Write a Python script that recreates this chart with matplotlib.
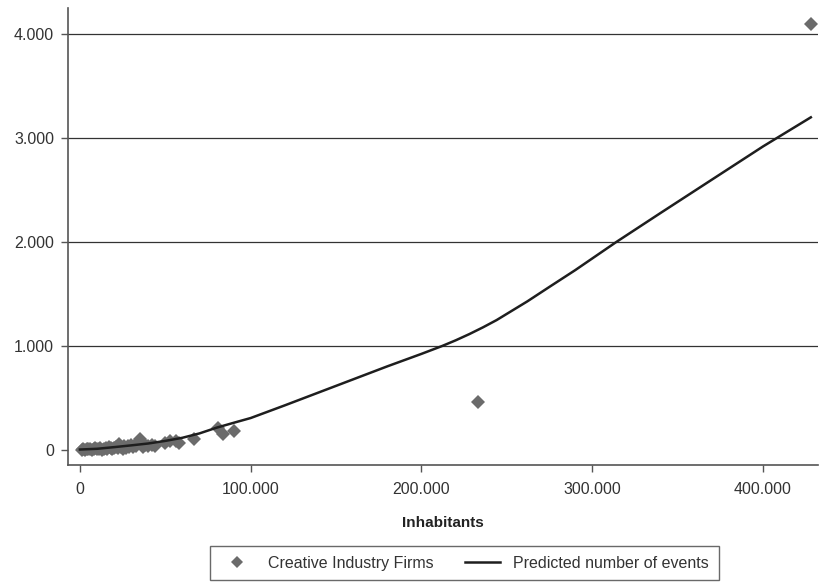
import numpy as np
import matplotlib
matplotlib.use('Agg')

import matplotlib.pyplot as plt
from matplotlib.ticker import FuncFormatter
from matplotlib.lines import Line2D

plt.rcParams['font.family'] = ['Liberation Sans', 'DejaVu Sans']

# --- Données ---
# Nombre d'habitants par commune et nombre d'entreprises créatives
habitants = [1000, 2000, 3000, 4000, 5000, 6000, 7000, 8000, 9000, 10000,
             11000, 12000, 13000, 14000, 15000, 16000, 17000, 18000, 19000, 20000,
             21000, 22000, 23000, 24000, 25000, 26000, 27000, 28000, 29000, 30000,
             31000, 32000, 33000, 35000, 36000, 37000, 38000, 40000, 42000, 44000,
             50000, 53000, 56000, 58000, 67000, 81000, 84000, 90000, 233000, 428000]
entreprises = [5, 8, 3, 10, 6, 12, 4, 9, 15, 7,
               12, 18, 5, 14, 20, 10, 25, 16, 8, 22,
               30, 18, 55, 28, 12, 35, 22, 40, 30, 45,
               25, 50, 38, 110, 60, 30, 45, 40, 50, 35,
               65, 85, 90, 65, 105, 210, 155, 180, 460, 4100]

# Courbe prédite (nombre d'événements)
pred_x = [0, 10000, 20000, 30000, 40000, 50000, 60000, 70000, 80000, 90000,
          100000, 120000, 140000, 160000, 180000, 200000, 212000, 220000, 228000,
          236000, 244000, 252000, 262000, 275000, 290000, 314000, 340000, 370000,
          400000, 428000]
pred_y = [5, 12, 28, 45, 63, 88, 118, 160, 215, 262,
          308, 430, 555, 680, 805, 925, 1000, 1055, 1115,
          1180, 1250, 1330, 1430, 1570, 1730, 2000, 2280, 2600,
          2920, 3200]

fig = plt.figure(figsize=(8.19, 5.82), dpi=100)
ax = fig.add_axes([0.083, 0.201, 0.916, 0.785])

ax.set_axisbelow(True)
for v in [1000, 2000, 3000, 4000]:
    ax.axhline(v, color='#333333', linewidth=0.9, zorder=0)

ax.plot(habitants, entreprises, linestyle='none', marker='D', markersize=6.8,
        color='#6b6b6b', markeredgewidth=0, zorder=2)
ax.plot(pred_x, pred_y, color='#1e1e1e', linewidth=1.8, zorder=3)

ax.set_xlim(-7000, 432300)
ax.set_ylim(-144, 4250)
ax.set_xticks([0, 100000, 200000, 300000, 400000])
ax.set_yticks([0, 1000, 2000, 3000, 4000])

fmt = FuncFormatter(lambda v, p: f'{int(v):,}'.replace(',', '.'))
ax.xaxis.set_major_formatter(fmt)
ax.yaxis.set_major_formatter(fmt)

for s in ['top', 'right']:
    ax.spines[s].set_visible(False)
for s in ['left', 'bottom']:
    ax.spines[s].set_color('#555555')
    ax.spines[s].set_linewidth(1.2)

ax.tick_params(axis='both', length=5, width=1, color='#555555',
               labelcolor='#333333', labelsize=11.5, pad=5)
ax.tick_params(axis='x', pad=7)

ax.set_xlabel('Inhabitants', fontsize=11, fontweight='bold', color='#222222', labelpad=14)

handles = [
    Line2D([], [], linestyle='none', marker='D', markersize=6, color='#6b6b6b',
           markeredgewidth=0, label='Creative Industry Firms'),
    Line2D([], [], color='#1e1e1e', linewidth=1.8, label='Predicted number of events'),
]
leg = fig.legend(handles=handles, loc='lower center', bbox_to_anchor=(0.567, 0.003),
                 ncol=2, frameon=True, fancybox=False, fontsize=11.5,
                 edgecolor='#444444', borderpad=0.6, borderaxespad=0,
                 columnspacing=2.0, handlelength=2.2, handletextpad=0.8)
leg.get_frame().set_linewidth(1.0)
for t in leg.get_texts():
    t.set_color('#333333')

fig.savefig('out.png', dpi=100)
plt.close()
